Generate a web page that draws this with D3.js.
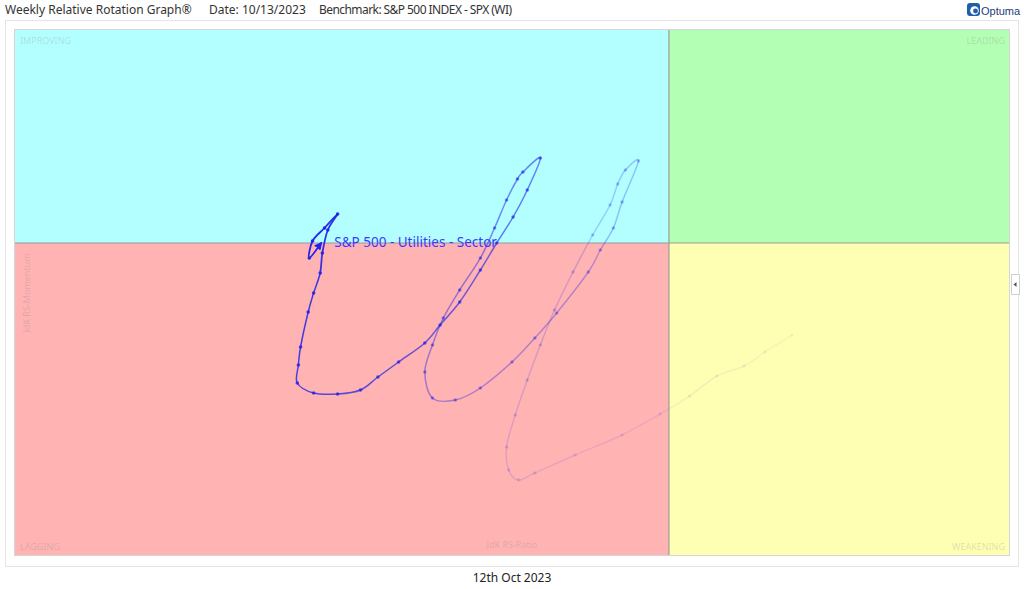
<!DOCTYPE html>
<html>
<head>
<meta charset="utf-8">
<script src="https://cdn.jsdelivr.net/npm/d3@7"></script>
<style>
  html, body { margin: 0; padding: 0; background: #fff; }
  svg { display: block; }
</style>
</head>
<body>
<svg id="chart" width="1024" height="589"></svg>
<script>
// ---- data ----
const titleText = "Weekly Relative Rotation Graph\u00AE";
const dateText = "Date: 10/13/2023";
const benchText = "Benchmark: S&P 500 INDEX - SPX (WI)";
const footerText = "12th Oct 2023";
const seriesName = "S&P 500 - Utilities - Sector";
const quadrantNames = ["IMPROVING", "LEADING", "LAGGING", "WEAKENING"];
const xAxisLabel = "JdK RS-Ratio";
const yAxisLabel = "JdK RS-Momentum";
const ratioDomain = [94.0, 103.12];
const momentumDomain = [96.88, 102.13];

// weekly tail, oldest first
const rsRatio = [
  101.13, 100.88, 100.69, 100.44, 100.19, 99.92, 99.57, 99.14, 98.77, 98.62,
  98.53, 98.51, 98.59, 98.70, 98.82, 98.95, 99.12, 99.30, 99.46, 99.53,
  99.60, 99.72,
  99.57, 99.49, 99.37, 99.26, 98.97, 98.77, 98.56, 98.27, 98.04, 97.83,
  97.76, 97.83, 97.93, 98.08, 98.27, 98.40, 98.51, 98.61, 98.66, 98.82,
  98.70, 98.57, 98.42, 98.27, 98.08, 97.90, 97.76, 97.52, 97.33, 97.17,
  96.96, 96.74, 96.59, 96.60, 96.62, 96.69, 96.74, 96.80, 96.82, 96.87,
  96.96, 96.84, 96.73, 96.70, 96.81
];
const rsMomentum = [
  99.08, 98.91, 98.77, 98.67, 98.47, 98.29, 98.08, 97.88, 97.70, 97.63,
  97.73, 97.96, 98.28, 98.63, 98.98, 99.33, 99.71, 100.08, 100.38, 100.59,
  100.73, 100.82,
  100.41, 100.15, 99.93, 99.71, 99.30, 99.05, 98.81, 98.55, 98.43, 98.45,
  98.71, 98.98, 99.25, 99.53, 99.85, 100.15, 100.43, 100.64, 100.71, 100.85,
  100.53, 100.26, 100.00, 99.73, 99.41, 99.18, 99.00, 98.81, 98.66, 98.53,
  98.49, 98.50, 98.60, 98.78, 98.96, 99.31, 99.50, 99.70, 99.90, 100.13,
  100.29, 100.15, 100.02, 99.85, 100.00
];

// ---- layout ----
const svg = d3.select("#chart");
const plot = { left: 15, top: 30, right: 1009, bottom: 555 };
const x = d3.scaleLinear().domain(ratioDomain).range([plot.left, plot.right]);
const y = d3.scaleLinear().domain(momentumDomain).range([plot.bottom, plot.top]);
const font = "Noto Sans, sans-serif";

// outer frame
svg.append("rect").attr("x", 5.5).attr("y", 20.5).attr("width", 1013).attr("height", 546)
  .attr("fill", "#fff").attr("stroke", "#e4e4e4");

// header
const hdr = svg.append("g").attr("font-family", font).attr("font-size", 12).attr("fill", "#333");
hdr.append("text").attr("x", 5).attr("y", 14).text(titleText);
hdr.append("text").attr("x", 209).attr("y", 14).text(dateText);
hdr.append("text").attr("x", 319).attr("y", 14).attr("textLength", 193).text(benchText);

// Optuma logo
const logo = svg.append("g");
logo.append("rect").attr("x", 967).attr("y", 3).attr("width", 13).attr("height", 13).attr("rx", 3).attr("fill", "#1f5fa8");
logo.append("circle").attr("cx", 974.5).attr("cy", 10.5).attr("r", 4.3).attr("fill", "#fff");
logo.append("circle").attr("cx", 975.5).attr("cy", 11).attr("r", 2.4).attr("fill", "#1f5fa8");
logo.append("text").attr("x", 981).attr("y", 15).attr("font-family", "Liberation Sans, Arial, sans-serif")
  .attr("font-size", 11).attr("fill", "#1d3e74").text("Optuma");

// quadrants
const quads = [
  { x0: ratioDomain[0], x1: 100, y0: 100, y1: momentumDomain[1], fill: "#b3ffff" },
  { x0: 100, x1: ratioDomain[1], y0: 100, y1: momentumDomain[1], fill: "#b3ffb3" },
  { x0: ratioDomain[0], x1: 100, y0: momentumDomain[0], y1: 100, fill: "#ffb3b3" },
  { x0: 100, x1: ratioDomain[1], y0: momentumDomain[0], y1: 100, fill: "#ffffb3" }
];
svg.append("g").selectAll("rect").data(quads).join("rect")
  .attr("x", d => x(d.x0)).attr("y", d => y(d.y1))
  .attr("width", d => x(d.x1) - x(d.x0)).attr("height", d => y(d.y0) - y(d.y1))
  .attr("fill", d => d.fill);

// center lines
svg.append("line").attr("x1", x(100)).attr("x2", x(100)).attr("y1", plot.top).attr("y2", plot.bottom)
  .attr("stroke", "#9a9a9a").attr("stroke-width", 1.2);
svg.append("line").attr("x1", plot.left).attr("x2", plot.right).attr("y1", y(100)).attr("y2", y(100))
  .attr("stroke", "#9a9a9a").attr("stroke-width", 1.2);

// plot border
svg.append("rect").attr("x", plot.left - 0.5).attr("y", plot.top - 0.5)
  .attr("width", plot.right - plot.left + 1).attr("height", plot.bottom - plot.top + 1)
  .attr("fill", "none").attr("stroke", "#d6d6d6");

// quadrant labels
const ql = svg.append("g").attr("font-family", font).attr("font-size", 9).attr("fill", "#8a8a8a").attr("fill-opacity", 0.28);
ql.append("text").attr("x", plot.left + 5).attr("y", plot.top + 14).text(quadrantNames[0]);
ql.append("text").attr("x", plot.right - 4).attr("y", plot.top + 14).attr("text-anchor", "end").text(quadrantNames[1]);
ql.append("text").attr("x", plot.left + 5).attr("y", plot.bottom - 5).text(quadrantNames[2]);
ql.append("text").attr("x", plot.right - 4).attr("y", plot.bottom - 5).attr("text-anchor", "end").text(quadrantNames[3]);
ql.append("text").attr("x", 512).attr("y", plot.bottom - 7).attr("text-anchor", "middle").text(xAxisLabel);
ql.append("text").attr("transform", "translate(30,293) rotate(-90)").attr("text-anchor", "middle").text(yAxisLabel);

// right side collapse button
svg.append("rect").attr("x", 1011.5).attr("y", 274.5).attr("width", 8).attr("height", 20)
  .attr("fill", "#fff").attr("stroke", "#d0d0d0");
svg.append("path").attr("d", "M1013.5,284.5 L1016.5,282 L1016.5,287 Z").attr("fill", "#555");

// ---- rotation tail ----
const pts = rsRatio.map((r, i) => [x(r), y(rsMomentum[i])]);
const n = pts.length;
const blue = "#2222e8";
const op = i => 0.04 + 0.96 * Math.pow(i / (n - 1), 1.3);

const tail = svg.append("g");
const segs = d3.range(n - 1).map(i => {
  const p0 = pts[Math.max(0, i - 1)], p1 = pts[i], p2 = pts[i + 1], p3 = pts[Math.min(n - 1, i + 2)];
  const c1 = [p1[0] + (p2[0] - p0[0]) / 6, p1[1] + (p2[1] - p0[1]) / 6];
  const c2 = [p2[0] - (p3[0] - p1[0]) / 6, p2[1] - (p3[1] - p1[1]) / 6];
  const path = d3.path();
  path.moveTo(p1[0], p1[1]);
  path.bezierCurveTo(c1[0], c1[1], c2[0], c2[1], p2[0], p2[1]);
  return { d: path.toString(), i: i + 1 };
});

svg.append("defs").append("marker").attr("id", "arrow")
  .attr("viewBox", "0 0 10 10").attr("refX", 8).attr("refY", 5)
  .attr("markerWidth", 4.5).attr("markerHeight", 4.5).attr("orient", "auto")
  .append("path").attr("d", "M0,0 L10,5 L0,10 Z").attr("fill", blue);

tail.selectAll("path").data(segs).join("path")
  .attr("d", d => d.d)
  .attr("fill", "none")
  .attr("stroke", blue)
  .attr("stroke-opacity", d => op(d.i))
  .attr("stroke-width", d => d.i > n - 8 ? 1.8 : 1.5)
  .attr("stroke-linecap", "round")
  .attr("marker-end", d => d.i === n - 1 ? "url(#arrow)" : null);

tail.selectAll("circle").data(pts.slice(0, n - 1)).join("circle")
  .attr("cx", d => d[0]).attr("cy", d => d[1]).attr("r", 1.8)
  .attr("fill", blue).attr("fill-opacity", (d, i) => op(i));

// series label
svg.append("text").attr("x", pts[n - 1][0] + 13).attr("y", pts[n - 1][1] + 4)
  .attr("font-family", font).attr("font-size", 13.5).attr("fill", "#3a3aff").text(seriesName);

// footer
svg.append("text").attr("x", 512).attr("y", 582).attr("text-anchor", "middle")
  .attr("font-family", font).attr("font-size", 12).attr("fill", "#222").text(footerText);
</script>
</body>
</html>
